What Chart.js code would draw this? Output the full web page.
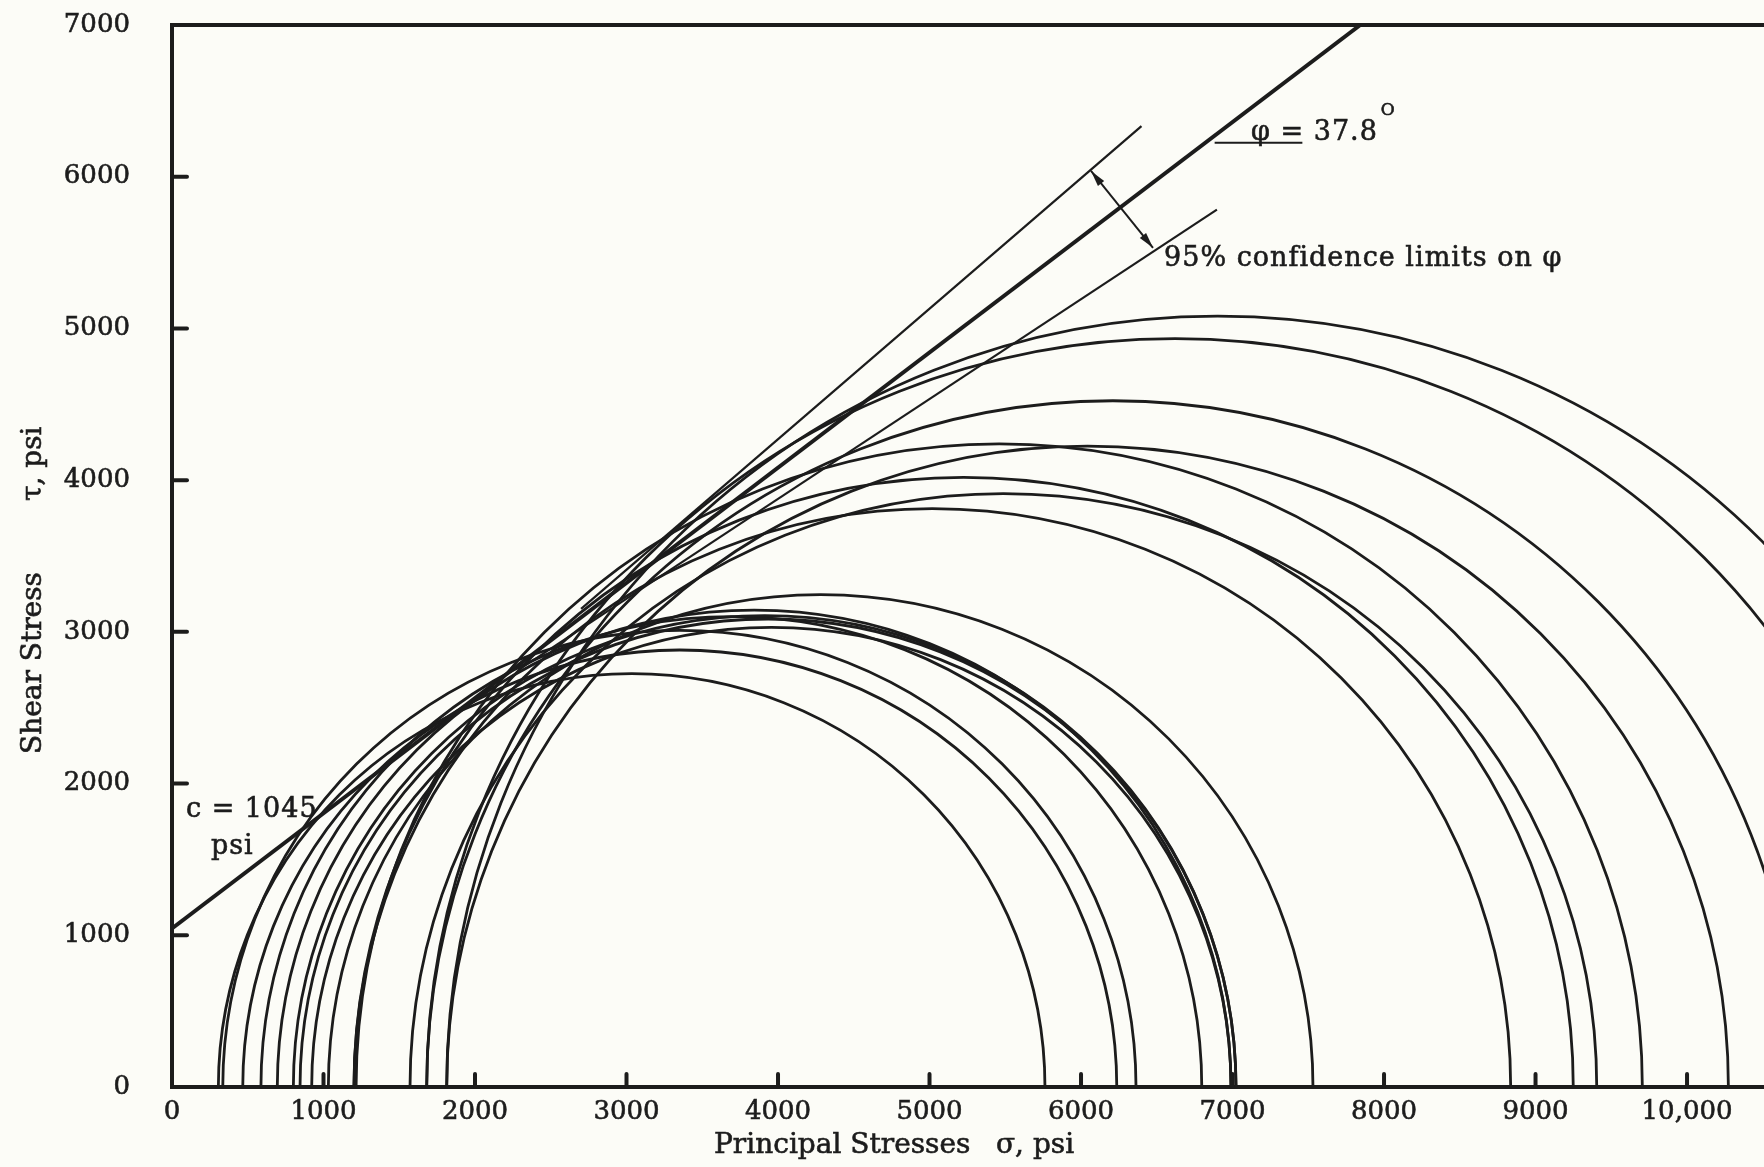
<!DOCTYPE html>
<html>
<head>
<meta charset="utf-8">
<script src="https://cdn.jsdelivr.net/npm/chart.js@4.4.1/dist/chart.umd.min.js"></script>
<style>
html, body { margin: 0; padding: 0; background: #fcfcf7; }
canvas { display: block; }
</style>
</head>
<body>
<canvas id="myChart" width="1764" height="1167"></canvas>
<script>
const ink = "#1c1c1c";
const serif = "DejaVu Serif";

// axis ticks
const xTicks = [0, 1000, 2000, 3000, 4000, 5000, 6000, 7000, 8000, 9000, 10000];
const xTickLabels = ["0", "1000", "2000", "3000", "4000", "5000", "6000", "7000", "8000", "9000", "10,000"];
const yTicks = [0, 1000, 2000, 3000, 4000, 5000, 6000, 7000];
const yTickLabels = ["0", "1000", "2000", "3000", "4000", "5000", "6000", "7000"];

// Mohr circles, one per test: minor and major principal stress (psi)
const sigma3 = [306, 335, 467, 587, 695, 801, 845, 922, 1032, 1201, 1201, 1571, 1215, 1813, 1681, 1681, 1813];
const sigma1 = [5762, 6363, 6236, 6797, 6990, 7023, 7023, 6990, 7531, 8836, 9249, 9404, 9705, 10273, 10740, 11560, 11990];

// failure envelope, c = 1045 psi
const envelopeSigma = [0, 7843];
const envelopeTau = [1045, 7000];
// 95% confidence limits on phi
const upperSigma = [2700, 6399];
const upperTau = [3152, 6333];
const lowerSigma = [2300, 6897];
const lowerTau = [2758, 5783];
// arrow between the limits, leader for the angle label
const arrowSigma = [6066, 6475];
const arrowTau = [6038, 5531];
const leaderSigma = [6882, 7461];
const leaderTau = [6224, 6224];

function pts(xs, ys) {
    return xs.map((x, i) => ({ x: x, y: ys[i] }));
}

function lineSet(xs, ys, width) {
    return {
        type: "scatter",
        data: pts(xs, ys),
        showLine: true,
        borderColor: ink,
        borderWidth: width,
        pointRadius: 0,
        clip: 0
    };
}

const circles = sigma3.map((s3, i) => ({ x: (s3 + sigma1[i]) / 2, y: 0, R: (sigma1[i] - s3) / 2 }));

function text(ctx, str, x, y) {
    ctx.fillText(str, x, y);
    ctx.strokeText(str, x, y);
}

const decorations = {
    id: "decorations",
    afterDatasetsDraw(chart) {
        const ctx = chart.ctx;
        const a = chart.chartArea;
        const px = v => chart.scales.x.getPixelForValue(v);
        const py = v => chart.scales.y.getPixelForValue(v);
        ctx.save();
        ctx.strokeStyle = ink;
        ctx.fillStyle = ink;
        ctx.lineCap = "round";

        // top frame line
        ctx.lineWidth = 4;
        ctx.beginPath();
        ctx.moveTo(a.left, a.top);
        ctx.lineTo(a.right, a.top);
        ctx.stroke();

        // tick marks point inward
        xTicks.slice(1).forEach(v => {
            ctx.beginPath();
            ctx.moveTo(px(v), a.bottom);
            ctx.lineTo(px(v), a.bottom - 13);
            ctx.stroke();
        });
        yTicks.slice(1, -1).forEach(v => {
            ctx.beginPath();
            ctx.moveTo(a.left, py(v));
            ctx.lineTo(a.left + 15, py(v));
            ctx.stroke();
        });

        // arrow heads on both ends
        const x0 = px(arrowSigma[0]), y0 = py(arrowTau[0]);
        const x1 = px(arrowSigma[1]), y1 = py(arrowTau[1]);
        [[x0, y0, x1, y1], [x1, y1, x0, y0]].forEach(([tx, ty, fx, fy]) => {
            const ang = Math.atan2(ty - fy, tx - fx);
            ctx.beginPath();
            ctx.moveTo(tx, ty);
            ctx.lineTo(tx - 16 * Math.cos(ang) + 4 * Math.sin(ang), ty - 16 * Math.sin(ang) - 4 * Math.cos(ang));
            ctx.lineTo(tx - 16 * Math.cos(ang) - 4 * Math.sin(ang), ty - 16 * Math.sin(ang) + 4 * Math.cos(ang));
            ctx.closePath();
            ctx.fill();
        });

        // labels
        ctx.lineWidth = 0.6;
        ctx.textBaseline = "middle";
        ctx.textAlign = "left";
        ctx.letterSpacing = "1px";
        ctx.font = "27px '" + serif + "'";
        text(ctx, "c = 1045", px(92), py(1826));
        text(ctx, "psi", px(257), py(1582));
        text(ctx, "φ = 37.8", px(7122), py(6289));
        const w = ctx.measureText("φ = 37.8").width;
        ctx.font = "17px '" + serif + "'";
        text(ctx, "O", px(7122) + w + 3, py(6289) - 22);
        ctx.font = "27px '" + serif + "'";
        text(ctx, "95% confidence limits on φ", px(6548), py(5458));

        // axis titles
        ctx.letterSpacing = "0px";
        ctx.font = "28px '" + serif + "'";
        text(ctx, "Principal Stresses", 714, 1146);
        text(ctx, "σ, psi", 996, 1146);
        ctx.translate(34, 0);
        ctx.rotate(-Math.PI / 2);
        text(ctx, "Shear Stress", -754, 0);
        text(ctx, "τ, psi", -501, 0);
        ctx.restore();
    }
};

const ctx = document.getElementById("myChart").getContext("2d");
const myChart = new Chart(ctx, {
    type: "scatter",
    data: {
        datasets: [
            {
                label: "Mohr circles",
                data: circles,
                showLine: false,
                pointStyle: "circle",
                pointBackgroundColor: "rgba(0,0,0,0)",
                pointBorderColor: ink,
                pointBorderWidth: 2.8,
                pointRadius: c => {
                    const d = c.raw;
                    if (!d) return 0;
                    const s = c.chart.scales.x;
                    const r = s.getPixelForValue(d.x + d.R) - s.getPixelForValue(d.x);
                    return isFinite(r) && r > 0 ? r : 0;
                },
                clip: 0
            },
            lineSet(envelopeSigma, envelopeTau, 4),
            lineSet(upperSigma, upperTau, 2.2),
            lineSet(lowerSigma, lowerTau, 2.2),
            lineSet(arrowSigma, arrowTau, 2),
            lineSet(leaderSigma, leaderTau, 2.2)
        ]
    },
    options: {
        responsive: false,
        animation: false,
        events: [],
        layout: { padding: { top: 25, right: 0, bottom: 0, left: 0 } },
        plugins: { legend: { display: false }, tooltip: { enabled: false } },
        scales: {
            x: {
                type: "linear",
                min: 0,
                max: 10508,
                afterFit: s => { s.height = 80; s.paddingLeft = 0; s.paddingRight = 0; },
                afterBuildTicks: s => { s.ticks = xTicks.map(v => ({ value: v })); },
                grid: { display: false, drawTicks: false },
                border: { display: true, width: 4, color: ink },
                ticks: {
                    autoSkip: false,
                    maxRotation: 0,
                    padding: 10,
                    color: ink,
                    textStrokeColor: ink,
                    textStrokeWidth: 0.6,
                    font: { family: serif, size: 26 },
                    callback: v => xTickLabels[xTicks.indexOf(v)]
                }
            },
            y: {
                type: "linear",
                min: 0,
                max: 7000,
                afterFit: s => { s.width = 172; s.paddingTop = 0; s.paddingBottom = 0; },
                afterBuildTicks: s => { s.ticks = yTicks.map(v => ({ value: v })); },
                grid: { display: false, drawTicks: false },
                border: { display: true, width: 4, color: ink },
                ticks: {
                    padding: 42,
                    color: ink,
                    textStrokeColor: ink,
                    textStrokeWidth: 0.6,
                    font: { family: serif, size: 26 },
                    callback: v => yTickLabels[yTicks.indexOf(v)]
                }
            }
        }
    },
    plugins: [decorations]
});
</script>
</body>
</html>
